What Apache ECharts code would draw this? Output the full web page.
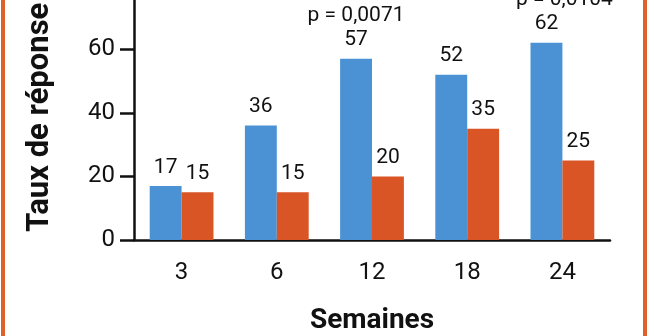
<!DOCTYPE html>
<html>
<head>
<meta charset="utf-8">
<script src="https://cdn.jsdelivr.net/npm/echarts@6/dist/echarts.min.js"></script>
<style>
  html, body { margin: 0; padding: 0; background: #ffffff; }
  #chart { width: 652px; height: 336px; }
</style>
</head>
<body>
<div id="chart"></div>
<script>
// Response rate (%) by week, two treatment arms
const weeks = ['3', '6', '12', '18', '24'];
const armBlue = [17, 36, 57, 52, 62];
const armOrange = [15, 15, 20, 35, 25];
const pValues = ['', '', 'p = 0,0071', '', 'p = 0,0104'];
const yTicks = { min: 0, max: 100, step: 20 };

const FONT = 'Roboto';
const BLUE = '#4a92d4';
const ORANGE = '#d95525';

const blueData = armBlue.map((v, i) => {
  if (!pValues[i]) return v;
  return {
    value: v,
    label: {
      formatter: '{p|' + pValues[i] + '}\n{v|{c}}',
      rich: {
        p: { fontFamily: FONT, fontSize: 21, color: '#111', lineHeight: 26,
             padding: i === 4 ? [0, 0, 0, 36] : 0 },
        v: { fontFamily: FONT, fontSize: 21, color: '#111', lineHeight: 22 }
      }
    }
  };
});

const chart = echarts.init(document.getElementById('chart'), null, { renderer: 'canvas' });
chart.setOption({
  backgroundColor: '#ffffff',
  animation: false,
  grid: { left: 134, right: 42, top: -78, bottom: 96, containLabel: false, outerBoundsMode: 'none' },
  xAxis: {
    type: 'category',
    data: weeks,
    name: 'Semaines',
    nameLocation: 'middle',
    nameGap: 67,
    nameTextStyle: { fontFamily: FONT, fontWeight: 'bold', fontSize: 28, color: '#111' },
    axisLine: { lineStyle: { color: '#111', width: 2.5 } },
    axisTick: { show: false },
    axisLabel: { fontFamily: FONT, fontSize: 24, color: '#111', margin: 21 }
  },
  yAxis: {
    type: 'value',
    min: yTicks.min,
    max: yTicks.max,
    interval: yTicks.step,
    name: 'Taux de réponse (%)',
    nameLocation: 'middle',
    nameGap: 78,
    nameTextStyle: { fontFamily: FONT, fontWeight: 'bold', fontSize: 31, color: '#111',
                     padding: [0, 20, 0, 0] },
    axisLine: { show: true, lineStyle: { color: '#111', width: 2.5 } },
    axisTick: { show: true, length: 14, lineStyle: { color: '#111', width: 2.5 } },
    axisLabel: { fontFamily: FONT, fontSize: 24, color: '#111', margin: 19 },
    splitLine: { show: false }
  },
  series: [
    {
      type: 'bar',
      data: blueData,
      barGap: '0%',
      barCategoryGap: '33%',
      itemStyle: { color: BLUE },
      label: { show: true, position: 'top', distance: 8,
               fontFamily: FONT, fontSize: 21, color: '#111' }
    },
    {
      type: 'bar',
      data: armOrange,
      itemStyle: { color: ORANGE },
      label: { show: true, position: 'top', distance: 8,
               fontFamily: FONT, fontSize: 21, color: '#111' }
    }
  ],
  graphic: [
    {
      type: 'rect',
      shape: { x: 3, y: -20, width: 642, height: 380 },
      style: { fill: 'none', stroke: '#e0622a', lineWidth: 4 },
      silent: true
    }
  ]
});
</script>
</body>
</html>
